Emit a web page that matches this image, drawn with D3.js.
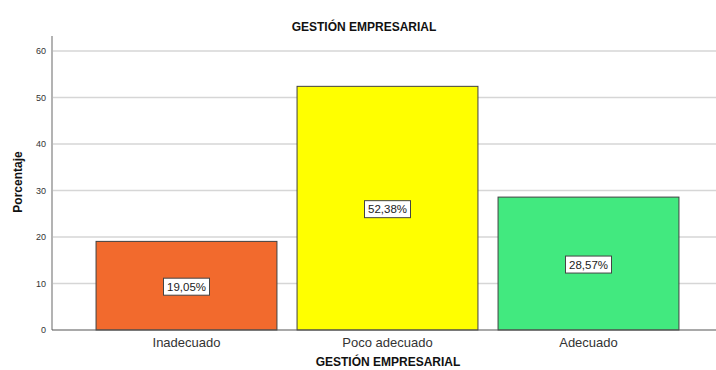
<!DOCTYPE html>
<html>
<head>
<meta charset="utf-8">
<script src="https://cdn.jsdelivr.net/npm/d3@7"></script>
<style>
  html, body { margin: 0; padding: 0; background: #fff; }
  svg { display: block; font-family: "Liberation Sans", Arial, sans-serif; }
</style>
</head>
<body>
<svg id="chart" width="716" height="370"></svg>
<script>
// Distribución porcentual de la variable Gestión Empresarial
const categories = ["Inadecuado", "Poco adecuado", "Adecuado"];
const percentages = [19.05, 52.38, 28.57];
const valueLabels = ["19,05%", "52,38%", "28,57%"];
const barColors = ["#f26a2d", "#ffff00", "#42e97f"];
const yTicks = [0, 10, 20, 30, 40, 50, 60];

const svg = d3.select("#chart");
const plot = { left: 52, right: 716, top: 36, bottom: 330 };

const x = d3.scaleBand()
  .domain(categories)
  .range([86, 689])
  .paddingInner(0.1)
  .paddingOuter(0.05);

const y = d3.scaleLinear()
  .domain([0, 63.2])
  .range([plot.bottom, plot.top]);

// horizontal gridlines
svg.append("g")
  .selectAll("line")
  .data(yTicks.filter(d => d > 0))
  .join("line")
  .attr("x1", plot.left).attr("x2", plot.right)
  .attr("y1", d => y(d)).attr("y2", d => y(d))
  .attr("stroke", "#d6d6d6")
  .attr("stroke-width", 1.5);

// y axis
const yAxis = svg.append("g")
  .attr("transform", `translate(${plot.left},0)`)
  .call(d3.axisLeft(y).tickValues(yTicks).tickSize(0).tickPadding(6));
yAxis.select(".domain").attr("stroke", "#b3b3b3").attr("stroke-width", 2)
  .attr("d", `M0,${plot.top}V${plot.bottom}`);
yAxis.selectAll("text")
  .attr("font-size", 9)
  .attr("fill", "#333")
  .attr("font-family", "Liberation Sans, Arial, sans-serif");

// bars
svg.append("g")
  .selectAll("rect")
  .data(categories)
  .join("rect")
  .attr("x", d => x(d))
  .attr("width", x.bandwidth())
  .attr("y", (d, i) => y(percentages[i]))
  .attr("height", (d, i) => y(0) - y(percentages[i]))
  .attr("fill", (d, i) => barColors[i])
  .attr("stroke", "#404040")
  .attr("stroke-width", 1);

// x axis
const xAxis = svg.append("g")
  .attr("transform", `translate(0,${plot.bottom})`)
  .call(d3.axisBottom(x).tickSize(0).tickPadding(8));
xAxis.select(".domain").attr("stroke", "#555").attr("stroke-width", 1.2)
  .attr("d", `M${plot.left},0H${plot.right}`);
xAxis.selectAll("text")
  .attr("font-size", 13)
  .attr("fill", "#333")
  .attr("font-family", "Liberation Sans, Arial, sans-serif");

// value labels in boxes
const lbl = svg.append("g")
  .selectAll("g")
  .data(categories)
  .join("g")
  .attr("transform", (d, i) => `translate(${x(d) + x.bandwidth() / 2},${y(percentages[i] / 2) + 1})`);
lbl.append("rect")
  .attr("x", -23).attr("y", -8.5)
  .attr("width", 46).attr("height", 17)
  .attr("fill", "#fff")
  .attr("stroke", "#444")
  .attr("stroke-width", 1);
lbl.append("text")
  .attr("text-anchor", "middle")
  .attr("dy", "0.36em")
  .attr("font-size", 11.5)
  .attr("fill", "#222")
  .text((d, i) => valueLabels[i]);

// titles
svg.append("text")
  .attr("x", 364).attr("y", 31)
  .attr("text-anchor", "middle")
  .attr("font-size", 12).attr("font-weight", "bold")
  .attr("fill", "#111")
  .text("GESTIÓN EMPRESARIAL");

svg.append("text")
  .attr("x", 388).attr("y", 366)
  .attr("text-anchor", "middle")
  .attr("font-size", 12).attr("font-weight", "bold")
  .attr("fill", "#111")
  .text("GESTIÓN EMPRESARIAL");

svg.append("text")
  .attr("transform", "translate(22,182) rotate(-90)")
  .attr("text-anchor", "middle")
  .attr("font-size", 12).attr("font-weight", "bold")
  .attr("fill", "#111")
  .text("Porcentaje");
</script>
</body>
</html>
